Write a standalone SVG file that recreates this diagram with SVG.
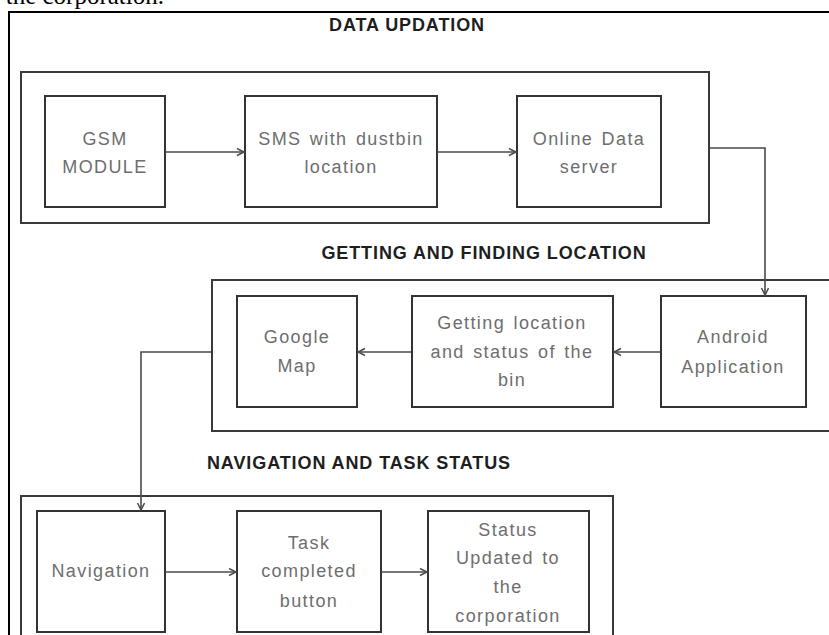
<svg xmlns="http://www.w3.org/2000/svg" width="829" height="635" viewBox="0 0 829 635">
<style>
.frame{fill:none;stroke:#000;stroke-width:2}
.grp{fill:none;stroke:#3a3a3a;stroke-width:2}
.box{fill:#fff;stroke:#333;stroke-width:2}
.lbl{font-family:"Liberation Sans",Arial,sans-serif;font-size:18px;fill:#6e6e6e;text-anchor:middle;letter-spacing:1.4px;word-spacing:2px}
.hd{font-family:"Liberation Sans",Arial,sans-serif;font-size:18px;font-weight:bold;fill:#1e1e1e;text-anchor:middle;letter-spacing:0.9px}
.con{fill:none;stroke:#4a4a4a;stroke-width:1.6}
.cap{font-family:"Liberation Serif","Times New Roman",serif;font-size:25px;fill:#000;text-anchor:end}
</style>
<defs>
<marker id="ah" markerUnits="userSpaceOnUse" markerWidth="10" markerHeight="10" refX="8" refY="4" orient="auto">
<path d="M1,0.5 L8,4 L1,7.5" fill="none" stroke="#4a4a4a" stroke-width="1.5"/>
</marker>
</defs>
<rect width="829" height="635" fill="#fff"/>
<text class="cap" x="164" y="4">the corporation.</text>
<path class="frame" d="M9,640 V12 H835"/>

<g id="group-data">
<rect class="grp" x="21" y="72" width="688" height="151"/>
<text class="hd" x="407" y="31">DATA UPDATION</text>
</g>
<g id="group-location">
<rect class="grp" x="212" y="280" width="630" height="151"/>
<text class="hd" x="484" y="259">GETTING AND FINDING LOCATION</text>
</g>
<g id="group-navigation">
<path class="grp" d="M21,640 V496 H613 V640"/>
<text class="hd" x="359" y="469">NAVIGATION AND TASK STATUS</text>
</g>

<g id="gsm">
<rect class="box" x="45" y="96" width="120" height="111"/>
<text class="lbl" x="105" y="145">GSM</text>
<text class="lbl" x="105" y="173">MODULE</text>
</g>
<g id="sms">
<rect class="box" x="245" y="96" width="192" height="111"/>
<text class="lbl" x="341" y="145">SMS with dustbin</text>
<text class="lbl" x="341" y="173">location</text>
</g>
<g id="server">
<rect class="box" x="517" y="96" width="144" height="111"/>
<text class="lbl" x="589" y="145">Online Data</text>
<text class="lbl" x="589" y="173">server</text>
</g>
<g id="google-map">
<rect class="box" x="237" y="296" width="120" height="111"/>
<text class="lbl" x="297" y="343">Google</text>
<text class="lbl" x="297" y="372">Map</text>
</g>
<g id="getting-location">
<rect class="box" x="412" y="296" width="201" height="111"/>
<text class="lbl" x="512" y="329">Getting location</text>
<text class="lbl" x="512" y="358">and status of the</text>
<text class="lbl" x="512" y="386">bin</text>
</g>
<g id="android">
<rect class="box" x="661" y="296" width="145" height="111"/>
<text class="lbl" x="733" y="343">Android</text>
<text class="lbl" x="733" y="373">Application</text>
</g>
<g id="navigation">
<rect class="box" x="37" y="511" width="128" height="121"/>
<text class="lbl" x="101" y="577">Navigation</text>
</g>
<g id="task-completed">
<rect class="box" x="237" y="511" width="144" height="121"/>
<text class="lbl" x="309" y="549">Task</text>
<text class="lbl" x="309" y="577">completed</text>
<text class="lbl" x="309" y="607">button</text>
</g>
<g id="status-updated">
<rect class="box" x="428" y="511" width="161" height="121"/>
<text class="lbl" x="508" y="536">Status</text>
<text class="lbl" x="508" y="564">Updated to</text>
<text class="lbl" x="508" y="593">the</text>
<text class="lbl" x="508" y="622">corporation</text>
</g>

<g id="connectors">
<path class="con" d="M165,152 H244" marker-end="url(#ah)"/>
<path class="con" d="M437,152 H516" marker-end="url(#ah)"/>
<path class="con" d="M710,148 H765 V295" marker-end="url(#ah)"/>
<path class="con" d="M660,352 H614" marker-end="url(#ah)"/>
<path class="con" d="M411,352 H358" marker-end="url(#ah)"/>
<path class="con" d="M211,352 H141 V510" marker-end="url(#ah)"/>
<path class="con" d="M165,572 H236" marker-end="url(#ah)"/>
<path class="con" d="M381,572 H427" marker-end="url(#ah)"/>
</g>
</svg>
